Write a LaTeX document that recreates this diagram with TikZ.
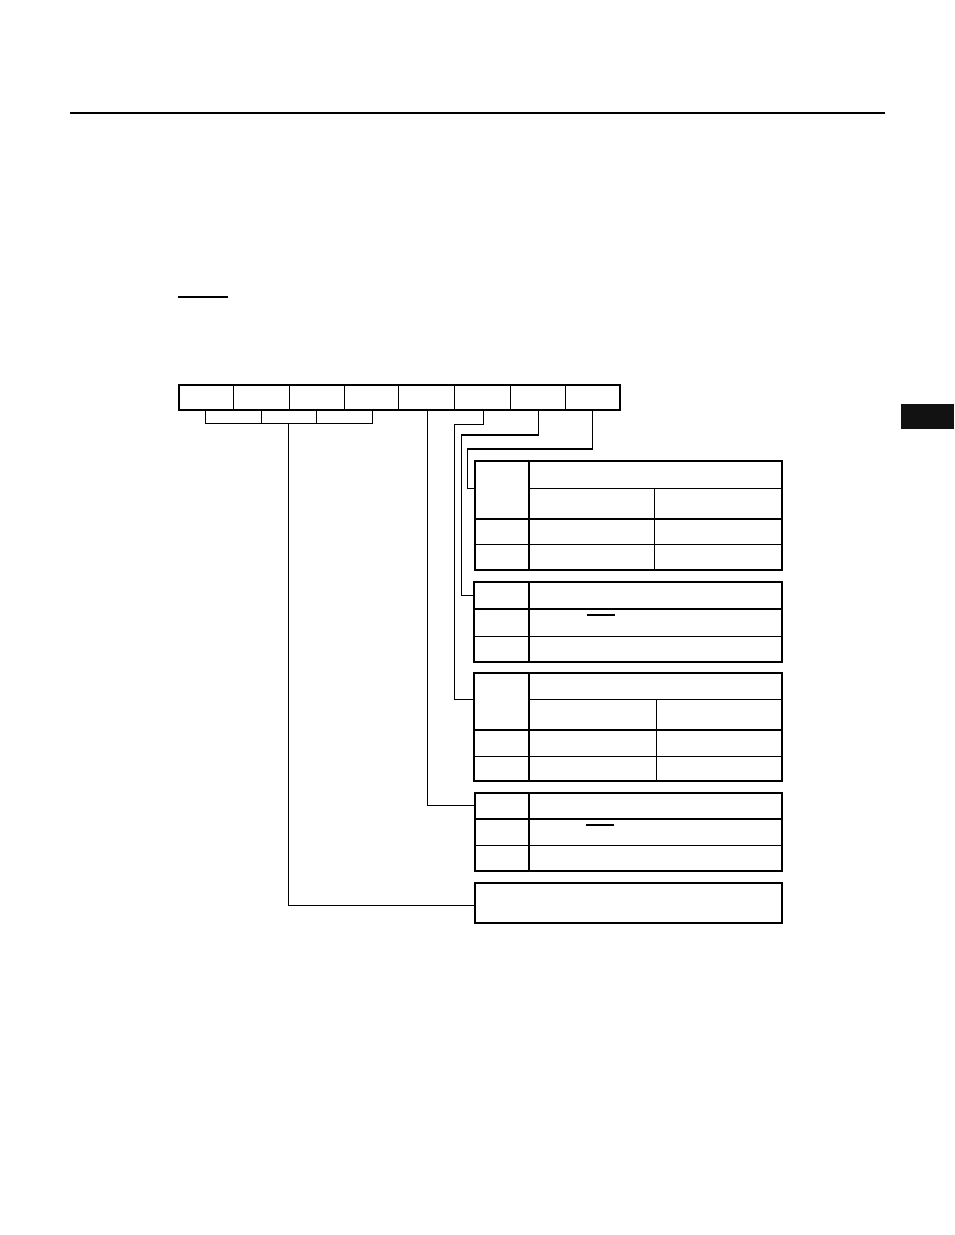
\documentclass[tikz,border=0pt]{standalone}
\begin{document}
\begin{tikzpicture}[x=1pt,y=-1pt,
  thin line/.style={line width=1.2pt},
  thick line/.style={line width=2pt},
  conn/.style={line width=1.2pt},
  line join=miter]
\useasboundingbox (0,0) rectangle (954,1235);
% top rule
\draw[line width=2pt] (70,113) -- (885,113);
% small underline
\draw[thin line] (178,297) -- (228,297);
% side tab
\fill[black!93] (901,404) rectangle (954,429);

% register box
\draw[thick line] (178.5,384.5) rectangle (619.5,409.5);
\foreach \x in {233.5,289.5,344.5,398.5,454.5,510.5,565.5}
  \draw[thin line] (\x,384.5) -- (\x,409.5);
% bits 7-5 bracket
\draw[thin line] (205.5,409.5) -- (205.5,423.5) -- (372.5,423.5) -- (372.5,409.5);
\draw[thin line] (261.5,409.5) -- (261.5,423.5);
\draw[thin line] (316.5,409.5) -- (316.5,423.5);

% connection coordinates on register
\coordinate (b75) at (288.5,423.5);
\coordinate (b3) at (427.5,409.5);
\coordinate (b2) at (483.5,409.5);
\coordinate (b1) at (538.5,409.5);
\coordinate (b0) at (592.5,409.5);

% table 1 (bit 0)
\draw[thick line] (475,461) rectangle (782,569.5);
\draw[thick line] (528.5,461) -- (528.5,569.5);
\draw[thin line] (528.5,488.5) -- (782,488.5);
\draw[thin line] (654.5,488.5) -- (654.5,569.5);
\draw[thick line] (475,519) -- (782,519);
\draw[thin line] (475,544.5) -- (782,544.5);
\coordinate (t1) at (475,488.5);

% table 2 (bit 1)
\draw[thick line] (474,582) rectangle (782,661.5);
\draw[thick line] (528.5,582) -- (528.5,661.5);
\draw[thick line] (474,609) -- (782,609);
\draw[thin line] (474,636.5) -- (782,636.5);
\draw[thin line] (587,615) -- (615,615);
\coordinate (t2) at (474,595.5);

% table 3 (bit 2)
\draw[thick line] (474,673) rectangle (782,780.5);
\draw[thick line] (528.5,673) -- (528.5,780.5);
\draw[thin line] (528.5,699.5) -- (782,699.5);
\draw[thin line] (656.5,699.5) -- (656.5,780.5);
\draw[thick line] (474,730) -- (782,730);
\draw[thin line] (474,756.5) -- (782,756.5);
\coordinate (t3) at (474,699.5);

% table 4 (bit 3)
\draw[thick line] (475,793) rectangle (782,870.5);
\draw[thick line] (528.5,793) -- (528.5,870.5);
\draw[thick line] (475,819) -- (782,819);
\draw[thin line] (475,845.5) -- (782,845.5);
\draw[thin line] (586,825) -- (614,825);
\coordinate (t4) at (475,805.5);

% table 5 (bits 7-5)
\draw[thick line] (475,883) rectangle (782,922.5);
\coordinate (t5) at (475,905.5);

% connectors
\draw[conn] (b0) -- (592.5,449) -- (467.5,449) -- (467.5,488.5) -- (t1);
\draw[conn] (b1) -- (538.5,435) -- (461.5,435) -- (461.5,595.5) -- (t2);
\draw[conn] (b2) -- (483.5,424.5) -- (454.5,424.5) -- (454.5,699.5) -- (t3);
\draw[conn] (b3) -- (427.5,805.5) -- (t4);
\draw[conn] (b75) -- (288.5,905.5) -- (t5);
\end{tikzpicture}
\end{document}
